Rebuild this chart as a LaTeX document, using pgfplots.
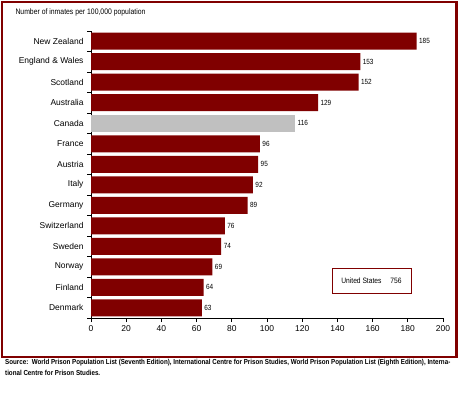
\documentclass[border=0pt]{standalone}
\usepackage{pgfplots}
\pgfplotsset{compat=1.18}
\usepackage{fontspec}
\setmainfont{Liberation Sans}
\newfontfamily\narrowfont[FakeStretch=0.86]{Liberation Sans}
\newfontfamily\sourcefont[FakeStretch=0.855]{Liberation Sans}
\definecolor{barred}{HTML}{800000}
\definecolor{canada}{HTML}{C0C0C0}
\begin{document}
\begin{tikzpicture}[x=1bp,y=1bp]
\path[use as bounding box] (0,0) rectangle (460,396);
\draw[barred, line width=2.5bp] (2,39) rectangle (456.5,394);
\begin{axis}[
  at={(91bp,78bp)}, anchor=south west,
  scale only axis, width=352bp, height=287bp,
  xmin=0, xmax=200, ymin=-0.5, ymax=13.5,
  axis x line*=bottom, axis y line*=left,
  axis line style={black, line width=0.8bp, -},
  xbar, bar width=17bp, bar shift=0pt,
  xtick={0,20,...,200},
  ytick={0,...,13},
  yticklabels={Denmark,Finland,Norway,Sweden,Switzerland,Germany,Italy,Austria,France,Canada,Australia,Scotland,England \& Wales,New Zealand},
  minor ytick={-0.5,0.5,...,13.5},
  tick align=outside,
  major tick length=4bp, minor tick length=4bp,
  major y tick style={draw=none},
  tick style={black, line width=0.8bp},
  ticklabel style={font=\fontsize{8.5}{10}\selectfont},
  /pgf/number format/assume math mode=true,
  nodes near coords,
  every node near coord/.append style={font=\narrowfont\fontsize{7.5}{8}\selectfont, black, anchor=west, xshift=-1bp},
  clip=false,
]
\addplot[fill=barred, draw=none] coordinates {
 (63,0) (64,1) (69,2) (74,3) (76,4) (89,5) (92,6) (95,7) (96,8) (129,10) (152,11) (153,12) (185,13)};
\addplot[fill=canada, draw=none] coordinates {(116,9)};
\end{axis}
\draw[barred, line width=1bp] (332,103) rectangle (411,128);
\node[font=\narrowfont\fontsize{7.8}{8}\selectfont] at (371.5,115.5) {United States\hspace{9bp}756};
\node[anchor=west, font=\narrowfont\fontsize{8}{9}\selectfont] at (12,384) {Number of inmates per 100,000 population};
\node[anchor=north west, inner sep=0pt, align=left, font=\sourcefont\bfseries\fontsize{7.3}{11}\selectfont] at (5,37) {Source:\ \ World Prison Population List (Seventh Edition), International Centre for Prison Studies, World Prison Population List (Eighth Edition), Interna-\\tional Centre for Prison Studies.};
\end{tikzpicture}
\end{document}
